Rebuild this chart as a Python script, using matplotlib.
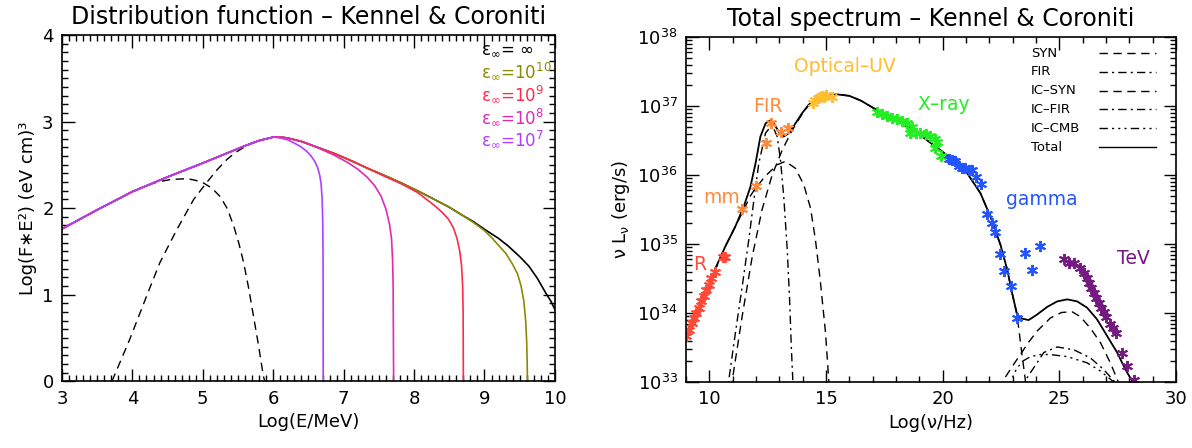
import numpy as np
import matplotlib
matplotlib.use("Agg")
import matplotlib.pyplot as plt
from matplotlib.ticker import MultipleLocator, LogLocator, NullFormatter

# ---------------- left panel: Log(F*E^2) vs Log(E/MeV) ----------------
# part shared by all curves (below the peak)
logE_common = [3.0, 3.5, 4.0, 4.5, 5.0, 5.3, 5.6, 5.8, 5.9, 6.0]
logF_common = [1.76, 1.98, 2.19, 2.36, 2.52, 2.62, 2.72, 2.78, 2.80, 2.82]

# tails above the peak, one per cut-off energy eps_inf
logE_inf = [6.1, 6.2, 6.4, 6.6, 6.87, 7.1, 7.34, 7.6, 7.82, 8.05, 8.29, 8.5, 8.68, 8.85,
            9.01, 9.2, 9.34, 9.5, 9.63, 9.75, 9.87, 9.94, 10.0]
logF_inf = [2.82, 2.81, 2.77, 2.71, 2.63, 2.55, 2.46, 2.37, 2.29, 2.20, 2.10, 2.01, 1.92, 1.84,
            1.75, 1.65, 1.56, 1.44, 1.33, 1.19, 1.02, 0.93, 0.83]
logE_e10 = [6.1, 6.2, 6.4, 6.6, 6.87, 7.1, 7.34, 7.6, 7.82, 8.05, 8.29, 8.5, 8.68, 8.85,
            9.0, 9.1, 9.2, 9.3, 9.4, 9.47, 9.52, 9.56, 9.585, 9.60, 9.607, 9.61]
logF_e10 = [2.82, 2.81, 2.77, 2.71, 2.63, 2.55, 2.46, 2.37, 2.29, 2.20, 2.10, 2.01, 1.92, 1.83,
            1.74, 1.66, 1.57, 1.48, 1.35, 1.24, 1.10, 0.92, 0.70, 0.45, 0.20, 0.0]
logE_e9 = [6.1, 6.2, 6.4, 6.6, 6.87, 7.1, 7.34, 7.6, 7.82, 8.05, 8.29, 8.4, 8.49, 8.56, 8.61,
           8.65, 8.675, 8.69, 8.697, 8.70]
logF_e9 = [2.82, 2.81, 2.77, 2.71, 2.63, 2.55, 2.46, 2.36, 2.28, 2.18, 2.03, 1.95, 1.87, 1.77,
           1.65, 1.50, 1.33, 1.10, 0.80, 0.0]
logE_e8 = [6.1, 6.2, 6.4, 6.6, 6.87, 7.05, 7.2, 7.33, 7.44, 7.53, 7.60, 7.65, 7.68, 7.695,
           7.703, 7.71]
logF_e8 = [2.82, 2.81, 2.77, 2.71, 2.61, 2.53, 2.45, 2.36, 2.26, 2.14, 1.99, 1.82, 1.65, 1.40,
           1.10, 0.0]
logE_e7 = [6.1, 6.2, 6.3, 6.39, 6.47, 6.53, 6.59, 6.63, 6.66, 6.68, 6.695, 6.703, 6.708, 6.71]
logF_e7 = [2.81, 2.79, 2.75, 2.71, 2.66, 2.61, 2.54, 2.47, 2.38, 2.28, 2.10, 1.85, 1.40, 0.0]

# the two dashed components (low-energy bump and high-energy power law)
logE_low = [3.0, 3.5, 4.0, 4.2, 4.35, 4.54, 4.78, 4.9, 5.01, 5.13, 5.25, 5.35, 5.44, 5.51,
            5.58, 5.65, 5.72, 5.79, 5.86, 5.88]
logF_low = [1.76, 1.98, 2.19, 2.26, 2.30, 2.33, 2.34, 2.32, 2.29, 2.23, 2.13, 1.99, 1.79, 1.60,
            1.37, 1.08, 0.75, 0.42, 0.06, 0.0]
logE_high = [3.71, 3.96, 4.2, 4.39, 4.63, 4.87, 5.05, 5.2, 5.34, 5.46, 5.58, 5.7, 5.8, 6.0]
logF_high = [0.0, 0.48, 0.98, 1.37, 1.75, 2.10, 2.29, 2.44, 2.56, 2.64, 2.70, 2.75, 2.78, 2.82]

eps_labels = ["ε$_\\infty$= ∞", "ε$_\\infty$=10$^{10}$", "ε$_\\infty$=10$^{9}$",
              "ε$_\\infty$=10$^{8}$", "ε$_\\infty$=10$^{7}$"]
eps_colors = ["black", "#8c8a00", "#ff2a4a", "#e02ab4", "#b23cff"]

# ---------------- right panel: nu L_nu vs Log(nu/Hz) ----------------
nu_tot = [9.0, 9.5, 10.0, 10.26, 10.69, 11.12, 11.48, 11.76, 11.98, 12.19, 12.41, 12.58,
          12.76, 12.98, 13.19, 13.41, 13.69, 13.98, 14.26, 14.6, 15.0, 15.5, 16.0, 16.5,
          17.05, 17.8, 18.48, 19.2, 19.91, 20.5, 21.05, 21.62, 22.05, 22.48, 22.77, 22.98,
          23.19, 23.41, 23.69, 24.05, 24.48, 24.91, 25.34, 25.77, 26.19, 26.62, 27.05,
          27.48, 27.84, 28.12, 28.4]
L_tot = [33.68, 34.04, 34.42, 34.65, 34.97, 35.26, 35.55, 35.83, 36.17, 36.56, 36.75, 36.79,
         36.75, 36.63, 36.56, 36.61, 36.75, 36.90, 37.02, 37.11, 37.16, 37.17, 37.15, 37.08,
         36.97, 36.85, 36.70, 36.54, 36.36, 36.21, 36.03, 35.74, 35.40, 34.99, 34.63, 34.29,
         33.98, 33.92, 33.90, 33.98, 34.09, 34.17, 34.20, 34.17, 34.08, 33.91, 33.67,
         33.43, 33.18, 33.02, 32.80]

# synchrotron of the low-energy electrons
nu_syn1 = [9.0, 10.0, 10.69, 11.12, 11.48, 11.76, 11.98, 12.41, 12.91, 13.26, 13.69, 14.05,
           14.34, 14.55, 14.76, 14.98, 15.12, 15.2]
L_syn1 = [33.68, 34.42, 34.97, 35.26, 35.50, 35.70, 35.81, 35.99, 36.15, 36.20, 36.10, 35.86,
          35.52, 35.06, 34.46, 33.72, 33.02, 32.70]
# synchrotron of the high-energy electrons (rise, then hidden under the total, then cut-off)
nu_syn2_rise = [10.9, 10.98, 11.41, 11.84, 12.26, 12.69, 13.12, 13.55, 13.91]
L_syn2_rise = [32.70, 33.02, 33.96, 34.82, 35.50, 36.00, 36.36, 36.65, 36.85]
nu_syn2_cut = [23.27, 23.41, 23.55, 23.62]
L_syn2_cut = [33.76, 33.38, 33.02, 32.80]
# thermal dust (FIR)
nu_fir = [10.78, 10.83, 11.12, 11.41, 11.69, 11.91, 12.12, 12.41, 12.69, 12.91, 13.05, 13.19,
          13.34, 13.44, 13.52, 13.58, 13.61]
L_fir = [32.80, 33.02, 33.72, 34.39, 35.06, 35.64, 36.17, 36.61, 36.73, 36.56, 36.22, 35.69,
         34.92, 34.20, 33.47, 33.02, 32.80]
# inverse Compton components
nu_icsyn = [22.4, 22.55, 23.05, 23.69, 24.05, 24.62, 25.1, 25.55, 25.9, 26.34, 26.77, 27.19,
            27.51, 27.65]
L_icsyn = [32.90, 33.0, 33.26, 33.58, 33.74, 33.93, 34.01, 34.02, 33.95, 33.78, 33.57, 33.28,
           33.02, 32.90]
nu_icfir = [23.35, 23.5, 23.77, 23.91, 24.34, 24.91, 25.62, 26.34, 26.91, 27.34, 27.5]
L_icfir = [32.90, 33.0, 33.14, 33.21, 33.43, 33.51, 33.47, 33.35, 33.18, 33.02, 32.95]
nu_iccmb = [22.8, 22.9, 23.15, 23.41, 23.77, 24.2, 24.62, 25.34, 26.19, 26.77, 27.27, 27.45]
L_iccmb = [32.90, 33.0, 33.18, 33.30, 33.37, 33.40, 33.40, 33.37, 33.28, 33.16, 33.02, 32.95]

# observed points, log10 of nu and nu L_nu
nu_R = [9.02, 9.12, 9.24, 9.34, 9.44, 9.55, 9.66, 9.76, 9.86, 9.98, 10.09, 10.24, 10.58, 10.66]
L_R = [33.67, 33.76, 33.86, 33.93, 34.00, 34.08, 34.17, 34.25, 34.34, 34.41, 34.51, 34.59,
       34.82, 34.81]
nu_FIR = [11.41, 11.98, 12.45, 12.66, 13.08, 13.38]
L_FIR = [35.51, 35.84, 36.46, 36.76, 36.63, 36.69]
nu_opt = [14.44, 14.55, 14.65, 14.73, 14.83, 14.93, 15.0, 15.26]
L_opt = [37.05, 37.09, 37.12, 37.14, 37.15, 37.13, 37.16, 37.14]
nu_X = [17.19, 17.41, 17.62, 17.84, 18.05, 18.27, 18.48, 18.69, 18.62, 18.84, 19.05, 19.27,
        19.48, 19.69, 19.77, 19.69, 19.91]
L_X = [36.92, 36.89, 36.86, 36.83, 36.81, 36.78, 36.76, 36.70, 36.61, 36.61, 36.61, 36.59,
       36.57, 36.53, 36.48, 36.39, 36.28]
nu_gam = [20.26, 20.41, 20.55, 20.69, 20.84, 20.98, 21.12, 21.26, 21.41, 21.65, 21.91, 22.12,
          22.26, 22.48, 22.65, 22.94, 23.19, 23.51, 23.81, 24.17]
L_gam = [36.24, 36.22, 36.20, 36.13, 36.11, 36.11, 36.08, 36.07, 35.98, 35.87, 35.43, 35.30,
         35.18, 34.86, 34.61, 34.39, 33.93, 34.87, 34.62, 34.98]
nu_TeV = [25.19, 25.41, 25.62, 25.91, 26.05, 26.17, 26.27, 26.37, 26.48, 26.59, 26.69, 26.81,
          26.91, 27.02, 27.17, 27.31, 27.45, 27.69, 27.91, 28.19]
L_TeV = [34.78, 34.73, 34.73, 34.65, 34.58, 34.51, 34.44, 34.37, 34.29, 34.22, 34.15, 34.08,
         34.01, 33.95, 33.85, 33.79, 33.71, 33.42, 33.24, 33.03]

# band labels: text, log nu, log L, colour
band_text = ["R", "mm", "FIR", "Optical–UV", "X–ray", "gamma", "TeV"]
band_nu = [9.6, 10.52, 12.5, 15.8, 20.03, 24.24, 28.16]
band_L = [34.70, 35.68, 36.99, 37.57, 37.03, 35.65, 34.79]
band_col = ["#ff4a3a", "#ff8a3a", "#ff8a3a", "#ffbe30", "#22ee22", "#2255ff", "#741a80"]

legend_names = ["SYN", "FIR", "IC–SYN", "IC–FIR", "IC–CMB", "Total"]

DASH = (0, (6, 4))
DASHDOT = (0, (6, 3, 1.5, 3))
DASH3DOT = (0, (6, 3, 1.5, 3, 1.5, 3, 1.5, 3))
legend_styles = [DASH, DASHDOT, DASH, DASHDOT, DASH3DOT, "-"]

plt.rcParams["font.family"] = ["DejaVu Sans"]
plt.rcParams["mathtext.fontset"] = "dejavusans"

fig = plt.figure(figsize=(11.92, 4.48), dpi=100)
ax1 = fig.add_axes([0.052, 0.149, 0.4135, 0.773])
ax2 = fig.add_axes([0.5755, 0.147, 0.411, 0.770])

def idl_ticks(ax):
    ax.tick_params(which="both", direction="in", top=True, right=True, labelsize=13,
                   width=1)
    ax.tick_params(which="major", length=9, pad=6)
    ax.tick_params(which="minor", length=4.5)
    for s in ax.spines.values():
        s.set_linewidth(1.2)

# ---- left ----
ax1.plot(logE_low, logF_low, color="black", lw=1, ls=DASH)
ax1.plot(logE_high, logF_high, color="black", lw=1, ls=DASH)
tails = [(logE_inf, logF_inf), (logE_e10, logF_e10), (logE_e9, logF_e9),
         (logE_e8, logF_e8), (logE_e7, logF_e7)]
for (te, tf), col in zip(tails, eps_colors):
    ax1.plot(logE_common + te, logF_common + tf, color=col, lw=1.2)
for i, (lab, col) in enumerate(zip(eps_labels, eps_colors)):
    ax1.text(8.95, 3.84 - i * 0.26, lab, color=col, fontsize=12, va="center", ha="left")

ax1.set_xlim(3, 10)
ax1.set_ylim(0, 4)
ax1.xaxis.set_major_locator(MultipleLocator(1))
ax1.xaxis.set_minor_locator(MultipleLocator(0.1))
ax1.yaxis.set_major_locator(MultipleLocator(1))
ax1.yaxis.set_minor_locator(MultipleLocator(0.1))
idl_ticks(ax1)
ax1.set_xlabel("Log(E/MeV)", fontsize=13)
ax1.set_ylabel("Log(F∗E²) (eV cm)³", fontsize=13)
ax1.set_title("Distribution function – Kennel & Coroniti", fontsize=17, pad=8)

# ---- right ----
def lin(v):
    return 10.0 ** np.asarray(v)

# index of the total where the high-energy synchrotron merges / leaves it
i0 = nu_tot.index(14.26)
i1 = nu_tot.index(23.19)
nu_syn2 = nu_syn2_rise + nu_tot[i0:i1 + 1] + nu_syn2_cut
L_syn2 = L_syn2_rise + L_tot[i0:i1 + 1] + L_syn2_cut

ax2.plot(nu_syn1, lin(L_syn1), color="black", lw=1, ls=DASH)
ax2.plot(nu_syn2, lin(L_syn2), color="black", lw=1, ls=DASH)
ax2.plot(nu_fir, lin(L_fir), color="black", lw=1, ls=DASHDOT)
ax2.plot(nu_icsyn, lin(L_icsyn), color="black", lw=1, ls=DASH)
ax2.plot(nu_icfir, lin(L_icfir), color="black", lw=1, ls=DASHDOT)
ax2.plot(nu_iccmb, lin(L_iccmb), color="black", lw=1, ls=DASH3DOT)
ax2.plot(nu_tot, lin(L_tot), color="black", lw=1.3)

star = (6, 2, 0)
points = [(nu_R, L_R, band_col[0]), (nu_FIR, L_FIR, band_col[1]), (nu_opt, L_opt, band_col[3]),
          (nu_X, L_X, band_col[4]), (nu_gam, L_gam, band_col[5]), (nu_TeV, L_TeV, band_col[6])]
for x, y, c in points:
    ax2.plot(x, lin(y), ls="none", marker=star, ms=8, mew=1.4, color=c)

for t, x, y, c in zip(band_text, band_nu, band_L, band_col):
    ax2.text(x, 10.0 ** y, t, color=c, fontsize=13.5, ha="center", va="center")

# legend drawn IDL-style in the upper right
for i, (name, ls) in enumerate(zip(legend_names, legend_styles)):
    yy = 0.954 - i * 0.0545
    ax2.text(0.704, yy, name, transform=ax2.transAxes, fontsize=9.5, va="center")
    ax2.plot([0.843, 0.959], [yy, yy], transform=ax2.transAxes, color="black", lw=1, ls=ls)

ax2.set_yscale("log")
ax2.set_xlim(9, 30)
ax2.set_ylim(1e33, 1e38)
ax2.xaxis.set_major_locator(MultipleLocator(5))
ax2.xaxis.set_minor_locator(MultipleLocator(1))
ax2.yaxis.set_major_locator(LogLocator(base=10))
ax2.yaxis.set_minor_locator(LogLocator(base=10, subs=np.arange(2, 10)))
ax2.yaxis.set_minor_formatter(NullFormatter())
idl_ticks(ax2)
ax2.set_xlabel("Log(ν/Hz)", fontsize=13)
ax2.set_ylabel("ν L$_\\mathregular{ν}$ (erg/s)", fontsize=13)
ax2.set_title("Total spectrum – Kennel & Coroniti", fontsize=17, pad=8)

fig.savefig("out.png", dpi=100)
